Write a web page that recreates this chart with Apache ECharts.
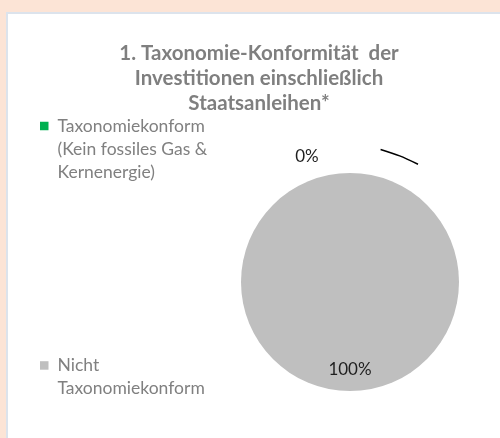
<!DOCTYPE html>
<html>
<head>
<meta charset="utf-8">
<script src="https://cdn.jsdelivr.net/npm/echarts@6/dist/echarts.min.js"></script>
<style>
  html, body { margin: 0; padding: 0; }
  body { width: 500px; height: 438px; background: #fce4d6; position: relative; overflow: hidden; }
  #panel { position: absolute; left: 6px; top: 12px; right: 0; bottom: 0;
           background: #ffffff; border-left: 2px solid #dce3ec; border-top: 2px solid #dce3ec; }
  #chart { position: absolute; left: 0; top: 0; width: 500px; height: 438px; }
</style>
</head>
<body>
<div id="panel"></div>
<div id="chart"></div>
<script>
// Daten
var categories = ['Taxonomiekonform (Kein fossiles Gas & Kernenergie)', 'Nicht Taxonomiekonform'];
var legendLabels = ['Taxonomiekonform\n(Kein fossiles Gas &\nKernenergie)', 'Nicht\nTaxonomiekonform'];
var values = [0, 100];
var colors = ['#00b050', '#bfbfbf'];
var titleText = '1. Taxonomie-Konformität  der\nInvestitionen einschließlich\nStaatsanleihen*';

var font = 'Lato';
var cx = 350, cy = 282, radius = 109;

var chart = echarts.init(document.getElementById('chart'));

var pieData = categories.map(function(name, i) {
	return { name: name, value: values[i], itemStyle: { color: colors[i] } };
});
// 0%-Segment: Beschriftung außen mit Linie
pieData[0].label = { position: 'outside' };
pieData[0].labelLine = { show: true };
pieData[1].label = { position: 'inside' };

// Legendentext: Symbol steht neben der ersten Zeile -> Leerzeilen davor
function legendText(idx) {
	return function(name) {
		var lines = legendLabels[idx].split('\n');
		var pad = new Array(lines.length).join('\n');
		return pad + legendLabels[idx];
	};
}

// Bogen der Hilfslinie (konzentrisch zum Kreis)
function arcPoint(deg, r) {
	var a = deg * Math.PI / 180;
	return [cx + r * Math.cos(a), cy - r * Math.sin(a)];
}

var legendStyle = { fontFamily: font, fontSize: 17.5, color: '#808080', lineHeight: 23.3, padding: [0, 0, 0, 4] };

var option = {
	animation: false,
	title: {
		text: titleText,
		left: 259,
		top: 40.5,
		padding: 0,
		textAlign: 'center',
		textStyle: { fontFamily: font, fontSize: 20.5, fontWeight: 'bold', color: '#7f7f7f', lineHeight: 25 }
	},
	legend: [
		{
			data: [categories[0]],
			left: 40, top: 67.75, padding: 0,
			icon: 'rect', itemWidth: 8.5, itemHeight: 8.5,
			selectedMode: false,
			formatter: legendText(0),
			textStyle: legendStyle
		},
		{
			data: [categories[1]],
			left: 40, top: 330.5, padding: 0,
			icon: 'rect', itemWidth: 8.5, itemHeight: 8.5,
			selectedMode: false,
			formatter: legendText(1),
			textStyle: legendStyle
		}
	],
	series: [{
		type: 'pie',
		center: [cx, cy],
		radius: radius,
		startAngle: 90,
		clockwise: true,
		avoidLabelOverlap: false,
		label: { formatter: '{d}%', fontFamily: font, fontSize: 17, color: '#1f1f1f' },
		labelLine: { lineStyle: { color: '#000', width: 1.5 }, smooth: true },
		labelLayout: function(p) {
			if (p.dataIndex === 0) {
				return {
					x: cx - 43, y: cy - 125, align: 'center', verticalAlign: 'middle',
					labelLinePoints: [arcPoint(77, 136), arcPoint(68.5, 136), arcPoint(60, 136)]
				};
			}
			return { dy: 30 };
		},
		data: pieData
	}]
};

chart.setOption(option);
</script>
</body>
</html>
